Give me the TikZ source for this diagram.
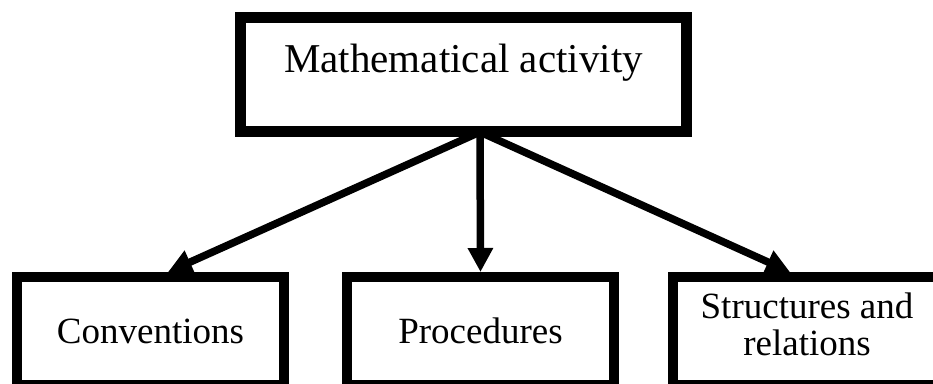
\documentclass[tikz,border=0pt]{standalone}
\usepackage{fontspec}
\setmainfont{Liberation Serif}
\usetikzlibrary{arrows.meta}
\begin{document}
\begin{tikzpicture}[x=1pt,y=-1pt,
  frame/.style={draw=black, inner sep=0pt, line join=miter},
  topbox/.style={frame, line width=11pt, outer sep=5.5pt,
    minimum width=446pt, minimum height=114pt},
  lowbox/.style={frame, line width=10pt, outer sep=5pt,
    minimum width=267pt, minimum height=108pt},
  txt/.style={inner sep=0pt, anchor=base, align=center},
  bigtext/.style={txt, font=\fontsize{41}{41}\selectfont},
  smalltext/.style={txt, font=\fontsize{37}{33}\selectfont},
  link/.style={draw=black, line width=7.5pt, -{Triangle[length=24pt,width=24pt]}}]
  % page area
  \useasboundingbox (0,0) rectangle (933,383);
  \fill[white] (0,0) rectangle (933,383);
  \clip (0,0) rectangle (933,383);

  % top box
  \node[topbox] (top) at (463.5,74.5) {};
  \node[bigtext] (toptext) at (463.5,72) {Mathematical activity};

  % lower boxes
  \node[lowbox] (conv) at (150.5,331) {};
  \node[lowbox] (proc) at (480.5,331) {};
  \node[lowbox] (struc) at (806.5,331) {};
  \node[smalltext] (convtext) at (150.5,343) {Conventions};
  \node[smalltext] (proctext) at (480.5,343) {Procedures};
  % base anchor of a two-line node sits on its last line
  \node[smalltext] (structext) at (807,355) {Structures and\\[4pt]relations};

  % connectors
  \coordinate (hub) at (480,132);
  \draw[link] (hub) -- ([xshift=17.5pt]conv.north);
  \draw[link] (hub) -- (proc.north);
  \draw[link] (hub) -- ([xshift=-16.5pt]struc.north);
\end{tikzpicture}
\end{document}
